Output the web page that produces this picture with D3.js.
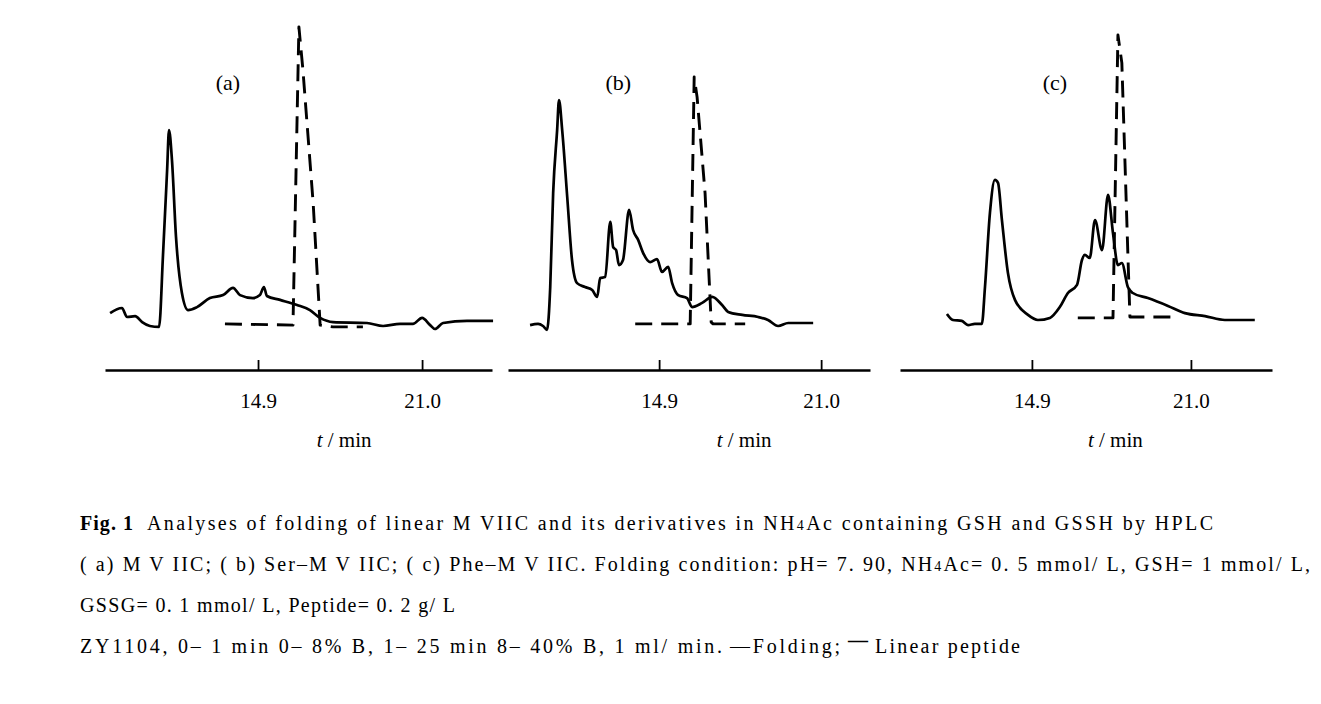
<!DOCTYPE html>
<html>
<head>
<meta charset="utf-8">
<script src="https://cdn.jsdelivr.net/npm/d3@7/dist/d3.min.js"></script>
<style>
  html, body { margin: 0; padding: 0; background: #fff; }
  svg { display: block; }
</style>
</head>
<body>
<svg id="chart" width="1321" height="704"></svg>
<script>
// ---------------- DATA ----------------
const panelLabels = ["(a)", "(b)", "(c)"];
const tickValues = [14.9, 21.0];
const tickLabels = ["14.9", "21.0"];
const axisTitle = ["t", " / min"];

// Panel (a) MVIIC — folding (solid)
const foldA_t = [9.40, 9.84, 10.03, 10.33, 10.59, 10.88, 11.22, 11.37, 11.52, 11.59, 11.70, 11.85, 12.07, 12.30, 12.63, 13.11, 13.60, 13.97, 14.23, 14.71, 14.97, 15.12, 15.23, 15.72, 16.35, 16.83, 17.21, 17.69, 18.95, 19.55, 20.18, 20.66, 21.00, 21.30, 21.48, 21.78, 22.67, 23.64];
const foldA_v = [12.3, 14.0, 11.0, 11.3, 9.3, 8.0, 7.7, 32.3, 60.0, 73.3, 63.3, 37.7, 19.0, 13.3, 14.3, 17.3, 18.3, 20.7, 18.3, 17.3, 18.3, 21.0, 18.0, 16.7, 15.0, 13.3, 10.7, 9.3, 9.0, 8.0, 8.7, 8.7, 10.7, 8.3, 7.0, 9.0, 9.7, 9.7];
// Panel (a) — linear peptide (dashed)
const linA_t = [13.67, 16.20, 16.42, 16.57, 16.95, 17.21, 17.69, 18.80];
const linA_v = [8.7, 8.3, 107.7, 93.3, 49.0, 8.3, 7.7, 7.7];

// Panel (b) Ser-MVIIC — folding (solid)
const foldB_t = [10.04, 10.34, 10.53, 10.68, 10.80, 10.91, 11.06, 11.13, 11.25, 11.44, 11.62, 11.81, 12.11, 12.38, 12.57, 12.68, 12.87, 13.06, 13.17, 13.28, 13.39, 13.54, 13.77, 13.92, 14.11, 14.30, 14.56, 14.82, 15.01, 15.24, 15.39, 15.62, 15.95, 16.14, 16.52, 16.90, 17.27, 17.50, 18.03, 18.63, 19.00, 19.38, 19.76, 20.70];
const foldB_v = [8.3, 8.7, 8.0, 6.7, 21.0, 52.3, 73.3, 83.3, 73.3, 51.0, 30.0, 22.3, 21.0, 20.0, 17.7, 24.0, 24.3, 42.7, 34.3, 33.3, 28.3, 30.0, 46.7, 40.0, 36.7, 32.3, 29.3, 30.3, 26.0, 27.7, 22.3, 18.3, 17.3, 14.3, 15.7, 17.7, 15.0, 12.7, 11.7, 11.0, 10.0, 8.0, 9.0, 9.0];
// Panel (b) — linear peptide (dashed)
const linB_t = [14.00, 16.07, 16.22, 16.33, 16.63, 16.86, 16.93, 18.14];
const linB_v = [8.7, 8.7, 91.0, 84.3, 52.3, 9.3, 8.7, 8.7];

// Panel (c) Phe-MVIIC — folding (solid)
const foldC_t = [11.64, 11.87, 12.21, 12.45, 12.71, 12.98, 13.10, 13.29, 13.48, 13.60, 13.75, 13.98, 14.25, 14.75, 15.13, 15.59, 15.97, 16.28, 16.63, 16.82, 16.93, 17.12, 17.32, 17.59, 17.82, 18.01, 18.20, 18.35, 18.58, 18.77, 19.35, 20.12, 20.77, 21.54, 22.30, 23.45];
const foldC_v = [12.0, 10.0, 9.7, 8.3, 8.7, 8.7, 21.0, 45.7, 56.7, 55.7, 43.3, 25.7, 16.7, 11.7, 10.0, 10.7, 14.3, 19.0, 21.7, 30.0, 31.7, 30.7, 43.3, 33.3, 51.7, 39.0, 28.3, 29.0, 21.0, 19.0, 17.3, 14.7, 12.3, 11.3, 10.0, 10.0];
// Panel (c) — linear peptide (dashed)
const linC_t = [16.66, 18.01, 18.20, 18.35, 18.58, 18.66, 20.50];
const linC_v = [10.7, 10.7, 105.0, 95.7, 32.3, 11.0, 11.0];

// Caption lines
const captionFig = "Fig. 1";
const caption1 = "Analyses of folding of linear M VIIC and its derivatives in NH|4|Ac containing GSH and GSSH by HPLC";
const caption2 = "( a) M V IIC; ( b) Ser\u2013M V IIC; ( c) Phe\u2013M V IIC.  Folding condition: pH= 7. 90,  NH|4|Ac= 0. 5 mmol/ L,  GSH= 1 mmol/ L,";
const caption3 = "GSSG= 0. 1 mmol/ L, Peptide= 0. 2 g/ L";
const caption4 = "ZY1104,  0\u2013 1 min 0\u2013 8% B, 1\u2013 25 min 8\u2013 40% B,  1 ml/ min.";
const legendFolding = "\u2014Folding;";
const legendDash = "\u2014";
const legendLinear = "Linear peptide";

// ---------------- LAYOUT ----------------
const panels = [
  { label: panelLabels[0], domain: [9.21, 23.60], range: [105, 492], labelT: 13.78, fold: [foldA_t, foldA_v], lin: [linA_t, linA_v] },
  { label: panelLabels[1], domain: [9.21, 22.84], range: [508, 870], labelT: 13.36, fold: [foldB_t, foldB_v], lin: [linB_t, linB_v] },
  { label: panelLabels[2], domain: [9.84, 24.11], range: [900, 1272], labelT: 15.78, fold: [foldC_t, foldC_v], lin: [linC_t, linC_v] }
];

const svg = d3.select("#chart");
const serif = "'Liberation Serif', 'DejaVu Serif', serif";
const axisY = 370;
const y = d3.scaleLinear().domain([0, 110]).range([350, 20]);

panels.forEach(p => {
  const x = d3.scaleLinear().domain(p.domain).range(p.range);
  const g = svg.append("g");

  // axis
  const axis = d3.axisBottom(x)
    .tickValues(tickValues)
    .tickFormat((d, i) => tickLabels[i])
    .tickSizeInner(-10)
    .tickSizeOuter(0)
    .tickPadding(23);
  const ag = g.append("g").attr("transform", `translate(0,${axisY})`).call(axis);
  ag.select(".domain").attr("stroke", "#000").attr("stroke-width", 2.4);
  ag.selectAll(".tick line").attr("stroke", "#000").attr("stroke-width", 1.8);
  ag.selectAll(".tick text")
    .attr("font-family", serif).attr("font-size", 21).attr("fill", "#000");

  // axis title
  const tt = g.append("text")
    .attr("x", x(18.1)).attr("y", 447)
    .attr("text-anchor", "middle")
    .attr("font-family", serif).attr("font-size", 21).attr("fill", "#000");
  tt.append("tspan").attr("font-style", "italic").text(axisTitle[0]);
  tt.append("tspan").text(axisTitle[1]);

  // panel label
  g.append("text")
    .attr("x", x(p.labelT)).attr("y", 90)
    .attr("text-anchor", "middle")
    .attr("font-family", serif).attr("font-size", 22).attr("fill", "#000")
    .text(p.label);

  // linear peptide (dashed)
  const linData = p.lin[0].map((t, i) => [t, p.lin[1][i]]);
  const lineLin = d3.line().x(d => x(d[0])).y(d => y(d[1])).curve(d3.curveLinear);
  g.append("path").datum(linData)
    .attr("d", lineLin)
    .attr("fill", "none").attr("stroke", "#000")
    .attr("stroke-width", 2.9)
    .attr("stroke-dasharray", "17,9")
    .attr("stroke-linejoin", "round");

  // folding (solid)
  const foldData = p.fold[0].map((t, i) => [t, p.fold[1][i]]);
  const lineFold = d3.line().x(d => x(d[0])).y(d => y(d[1])).curve(d3.curveMonotoneX);
  g.append("path").datum(foldData)
    .attr("d", lineFold)
    .attr("fill", "none").attr("stroke", "#000")
    .attr("stroke-width", 2.7)
    .attr("stroke-linejoin", "round");
});

// ---------------- CAPTION ----------------
function addRich(sel, str) {
  // segments separated by | ; odd segments are the small "4" of NH4Ac
  str.split("|").forEach((s, i) => {
    const ts = sel.append("tspan").text(s);
    if (i % 2 === 1) ts.attr("font-size", 14);
  });
}

const cap = svg.append("g").attr("font-family", serif).attr("font-size", 20).attr("fill", "#000");

cap.append("text").attr("x", 80).attr("y", 530)
  .attr("font-weight", "bold")
  .attr("textLength", 53).attr("lengthAdjust", "spacing")
  .text(captionFig);

const t1 = cap.append("text").attr("x", 147).attr("y", 530)
  .attr("textLength", 1066).attr("lengthAdjust", "spacing");
addRich(t1, caption1);

const t2 = cap.append("text").attr("x", 80).attr("y", 571)
  .attr("textLength", 1230).attr("lengthAdjust", "spacing");
addRich(t2, caption2);

cap.append("text").attr("x", 80).attr("y", 612)
  .attr("textLength", 375).attr("lengthAdjust", "spacing")
  .text(caption3);

cap.append("text").attr("x", 80).attr("y", 653)
  .attr("textLength", 642).attr("lengthAdjust", "spacing")
  .text(caption4);

cap.append("text").attr("x", 730).attr("y", 653)
  .attr("textLength", 110).attr("lengthAdjust", "spacing")
  .text(legendFolding);

cap.append("text").attr("x", 848).attr("y", 647)
  .attr("font-weight", "bold")
  .text(legendDash);

cap.append("text").attr("x", 875).attr("y", 653)
  .attr("textLength", 145).attr("lengthAdjust", "spacing")
  .text(legendLinear);
</script>
</body>
</html>
